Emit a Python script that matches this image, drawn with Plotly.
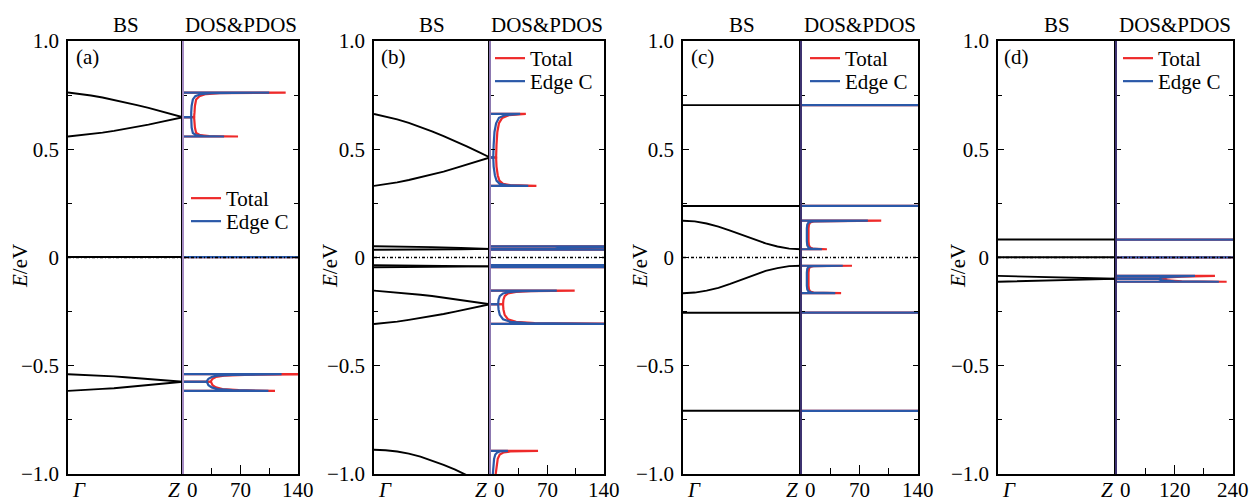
import plotly.graph_objects as go

W, H = 1249, 501
FONT = "Liberation Serif"
FS = 21
RED = "#ee2a2a"
BLUE = "#2a58a8"

# ---------------- data ----------------
K = [0.0, 0.1, 0.2, 0.3, 0.4, 0.5, 0.6, 0.7, 0.8, 0.9, 1.0]
K5 = [0.0, 0.25, 0.5, 0.75, 1.0]
K_FLAT = [0.0, 1.0]

# band structure (energy in eV along Gamma -> Z)
BANDS_A = [
    [0.762, 0.756, 0.748, 0.739, 0.728, 0.717, 0.704, 0.691, 0.677, 0.663, 0.648],
    [0.559, 0.564, 0.570, 0.577, 0.585, 0.594, 0.604, 0.614, 0.625, 0.637, 0.648],
    [0.002, 0.002],
    [-0.539, -0.541, -0.543, -0.546, -0.549, -0.553, -0.557, -0.561, -0.565, -0.570, -0.574],
    [-0.616, -0.614, -0.611, -0.607, -0.604, -0.599, -0.595, -0.590, -0.585, -0.579, -0.574],
]
BANDS_B = [
    [0.663, 0.652, 0.638, 0.622, 0.604, 0.583, 0.561, 0.538, 0.513, 0.488, 0.462],
    [0.331, 0.338, 0.347, 0.358, 0.370, 0.383, 0.397, 0.413, 0.429, 0.445, 0.462],
    [0.052, 0.051, 0.048, 0.044, 0.040],
    [0.036, 0.036, 0.037, 0.038, 0.040],
    [-0.035, -0.036, -0.038, -0.040, -0.041],
    [-0.045, -0.045, -0.044, -0.042, -0.041],
    [-0.153, -0.157, -0.161, -0.166, -0.172, -0.178, -0.185, -0.192, -0.200, -0.208, -0.216],
    [-0.307, -0.302, -0.296, -0.288, -0.280, -0.271, -0.261, -0.250, -0.239, -0.228, -0.216],
    [-0.888, -0.890, -0.896, -0.906, -0.920, -0.938, -0.958, -0.980, -1.005, -1.031, -1.057],
]
BANDS_C = [
    [0.704, 0.704],
    [0.238, 0.238],
    [0.170, 0.167, 0.157, 0.143, 0.124, 0.104, 0.084, 0.065, 0.051, 0.041, 0.038],
    [-0.165, -0.162, -0.153, -0.140, -0.122, -0.101, -0.081, -0.062, -0.049, -0.040, -0.038],
    [-0.255, -0.255],
    [-0.708, -0.708],
]
BANDS_D = [
    [0.083, 0.083],
    [0.001, 0.001],
    [-0.085, -0.086, -0.087, -0.088, -0.089, -0.090, -0.092, -0.093, -0.095, -0.096, -0.098],
    [-0.112, -0.111, -0.110, -0.109, -0.108, -0.106, -0.105, -0.103, -0.102, -0.100, -0.098],
]

# DOS / PDOS: lobes separated by None (energy, total DOS, edge-C PDOS)
DOS_A_E = [-0.616, -0.613, -0.608, -0.600, -0.590, -0.580, -0.574, None,
           -0.574, -0.568, -0.560, -0.552, -0.546, -0.542, -0.539, None,
           0.002, 0.002, None,
           0.559, 0.561, 0.565, 0.575, 0.600, 0.630, 0.648, None,
           0.648, 0.670, 0.700, 0.730, 0.745, 0.755, 0.759, 0.762]
DOS_A_TOTAL = [112, 68, 48, 40, 36, 34.5, 34, None,
               34, 34.5, 36, 40, 50, 75, 150, None,
               400, 400, None,
               67, 32, 21, 16, 14.5, 14, 13.5, None,
               13.5, 14, 14.5, 16, 20, 28, 45, 125]
DOS_A_EDGE = [104, 60, 42, 35, 31, 29.5, 29, None,
              29, 29.5, 31, 35, 42, 60, 120, None,
              400, 400, None,
              50, 25, 16, 12, 10.5, 10, 10, None,
              10, 10, 10.5, 12, 15, 22, 35, 105]

DOS_B_E = [-1.06, -1.0, -0.96, -0.93, -0.91, -0.90, -0.896, -0.893, None,
           -0.307, -0.303, -0.297, -0.285, -0.265, -0.240, -0.216, None,
           -0.216, -0.195, -0.178, -0.166, -0.159, -0.155, -0.153, None,
           -0.045, -0.043, -0.041, None,
           -0.041, -0.038, -0.035, None,
           0.036, 0.038, 0.040, None,
           0.040, 0.044, 0.048, 0.052, None,
           0.331, 0.334, 0.340, 0.355, 0.380, 0.420, 0.462, None,
           0.462, 0.520, 0.580, 0.620, 0.645, 0.657, 0.663]
DOS_B_TOTAL = [6.5, 7, 8, 9.5, 12, 17, 25, 59, None,
               180, 55, 32, 22, 18, 16.5, 16, None,
               16, 16.5, 18, 22, 32, 50, 104, None,
               400, 180, 160, None,
               160, 180, 400, None,
               400, 130, 107, None,
               107, 112, 140, 400, None,
               57, 25, 16, 11.5, 9.5, 8, 7.5, None,
               7.5, 8, 9, 11, 15, 23, 44]
DOS_B_EDGE = [3, 3.5, 4, 5, 6.5, 9, 12, 22, None,
              160, 45, 25, 16, 12, 10.5, 10, None,
              10, 10.5, 12, 16, 25, 40, 82, None,
              400, 150, 130, None,
              130, 150, 400, None,
              400, 100, 80, None,
              80, 85, 110, 400, None,
              47, 20, 12, 8, 6, 4.5, 4, None,
              4, 4.5, 5.5, 7.5, 11, 18, 37]

DOS_C_E = [-0.708, -0.708, None,
           -0.255, -0.255, None,
           -0.165, -0.162, -0.157, -0.147, -0.130, -0.100, -0.070, -0.052, -0.043, -0.040, -0.038, None,
           0.038, 0.041, 0.046, 0.056, 0.075, 0.104, 0.135, 0.152, 0.162, 0.167, 0.170, None,
           0.238, 0.238, None,
           0.704, 0.704]
DOS_C_TOTAL = [400, 400, None,
               400, 400, None,
               48, 15, 11, 9.5, 9, 8.8, 9, 9.5, 11, 15, 61, None,
               31, 14, 11, 9.5, 9, 8.8, 9, 9.5, 11, 15, 96, None,
               400, 400, None,
               400, 400]
DOS_C_EDGE = [400, 400, None,
              400, 400, None,
              41, 13, 9, 7.5, 7, 6.8, 7, 7.5, 9, 13, 50, None,
              25, 12, 9, 7.5, 7, 6.8, 7, 7.5, 9, 13, 80, None,
              400, 400, None,
              400, 400]

DOS_D_E = [-0.112, -0.110, -0.106, -0.098, None,
           -0.098, -0.092, -0.088, -0.085, None,
           0.001, 0.001, None,
           0.083, 0.083]
DOS_D_TOTAL = [227, 135, 106, 96, None,
               96, 106, 135, 203, None,
               700, 700, None,
               700, 700]
DOS_D_EDGE = [211, 120, 95, 86, None,
              86, 95, 120, 162, None,
              700, 700, None,
              700, 700]

E_FERMI = 0.0
E_RANGE = [-1.0, 1.0]
E_TICKS = [-1.0, -0.5, 0.0, 0.5, 1.0]
E_TICKTEXT = ["\u22121.0", "\u22120.5", "0", "0.5", "1.0"]

PANEL_LABELS = ["(a)", "(b)", "(c)", "(d)"]
DOS_MAX = [140, 140, 140, 240]
DOS_TICKS = [[0, 70, 140], [0, 70, 140], [0, 70, 140], [0, 120, 240]]
DOS_MINOR = [35, 35, 35, 60]

# ---------------- layout geometry (pixels) ----------------
BS_PX = [(68, 183), (374, 490), (683, 801), (998, 1116)]
DOS_PX = [(183, 298), (490, 604), (801, 918), (1116, 1233)]
TOP_PX, BOT_PX = 41, 474
YLABEL_X = [20, 330, 640, 958]
LEGEND_X = [186, 490, 805, 1118]
LEGEND_Y = [(178, 201), (38, 61), (38, 61), (38, 61)]
ZLINE_COLOR = ["#a58cc4", "#8c78b0", "#3d3270", "#3d3270"]
XLABEL_Y = 489.5

BANDS = [BANDS_A, BANDS_B, BANDS_C, BANDS_D]
DOS_E = [DOS_A_E, DOS_B_E, DOS_C_E, DOS_D_E]
DOS_T = [DOS_A_TOTAL, DOS_B_TOTAL, DOS_C_TOTAL, DOS_D_TOTAL]
DOS_P = [DOS_A_EDGE, DOS_B_EDGE, DOS_C_EDGE, DOS_D_EDGE]


def kgrid(n):
    return {11: K, 5: K5, 2: K_FLAT}[n]


def dos_path(energies, values):
    xs, ys = [], []
    lobe_e, lobe_v = [], []
    for e, v in list(zip(energies, values)) + [(None, None)]:
        if e is None:
            if lobe_e:
                xs += [0] + lobe_v + [0, None]
                ys += [lobe_e[0]] + lobe_e + [lobe_e[-1], None]
            lobe_e, lobe_v = [], []
        else:
            lobe_e.append(e)
            lobe_v.append(v)
    return xs, ys


fig = go.Figure()
layout = {}
annotations = []
shapes = []
ydom = [1 - BOT_PX / H, 1 - TOP_PX / H]
txtfont = dict(family=FONT, size=FS, color="black")

for i in range(4):
    bx, dx = 2 * i + 1, 2 * i + 2
    bxn = "x" if bx == 1 else f"x{bx}"
    byn = "y" if bx == 1 else f"y{bx}"
    dxn, dyn = f"x{dx}", f"y{dx}"
    leg_t = f"legend{2 * i + 1}" if i > 0 else "legend"
    leg_p = f"legend{2 * i + 2}"

    # band structure
    for band in BANDS[i]:
        fig.add_trace(go.Scatter(x=kgrid(len(band)), y=band, mode="lines",
                                 line=dict(color="black", width=1.9),
                                 xaxis=bxn, yaxis=byn, showlegend=False,
                                 hoverinfo="skip"))
    fig.add_trace(go.Scatter(x=K_FLAT, y=[E_FERMI, E_FERMI], mode="lines",
                             line=dict(color="black", width=1.3, dash="3px,2px,1px,2px"),
                             xaxis=bxn, yaxis=byn, showlegend=False, hoverinfo="skip"))

    # DOS and PDOS
    tx, ty = dos_path(DOS_E[i], DOS_T[i])
    px_, py_ = dos_path(DOS_E[i], DOS_P[i])
    fig.add_trace(go.Scatter(x=tx, y=ty, mode="lines", name="Total",
                             line=dict(color=RED, width=2.2), xaxis=dxn, yaxis=dyn,
                             legend=leg_t, showlegend=True, hoverinfo="skip"))
    fig.add_trace(go.Scatter(x=px_, y=py_, mode="lines", name="Edge C",
                             line=dict(color=BLUE, width=2.2), xaxis=dxn, yaxis=dyn,
                             legend=leg_p, showlegend=True, hoverinfo="skip"))
    fig.add_trace(go.Scatter(x=[0, DOS_MAX[i]], y=[E_FERMI, E_FERMI], mode="lines",
                             line=dict(color="black", width=1.3, dash="3px,2px,1px,2px"),
                             xaxis=dxn, yaxis=dyn, showlegend=False, hoverinfo="skip"))

    axline = dict(showline=True, linecolor="black", linewidth=1.5,
                  showgrid=False, zeroline=False)
    layout["xaxis" if bx == 1 else f"xaxis{bx}"] = dict(
        domain=[BS_PX[i][0] / W, BS_PX[i][1] / W], range=[0, 1], anchor=byn,
        tickvals=[0, 1], showticklabels=False, ticks="", mirror=True, **axline)
    layout["yaxis" if bx == 1 else f"yaxis{bx}"] = dict(
        domain=ydom, range=E_RANGE, anchor=bxn, tickvals=E_TICKS, ticktext=E_TICKTEXT,
        ticks="inside", ticklen=6, tickwidth=1.2, tickcolor="black",
        minor=dict(dtick=0.25, ticks="inside", ticklen=4, tickwidth=1.2, tickcolor="black"),
        mirror=False, tickfont=txtfont, ticklabelstandoff=3, **axline)
    dt = DOS_TICKS[i]
    layout[f"xaxis{dx}"] = dict(
        domain=[DOS_PX[i][0] / W, DOS_PX[i][1] / W], range=[0, DOS_MAX[i]], anchor=dyn,
        tickvals=dt, showticklabels=False,
        ticks="inside", ticklen=9, tickwidth=1.2, tickcolor="black",
        minor=dict(dtick=DOS_MINOR[i], ticks="inside", ticklen=6, tickwidth=1.2,
                   tickcolor="black"),
        mirror=True, **axline)
    layout[f"yaxis{dx}"] = dict(
        domain=ydom, range=E_RANGE, anchor=dxn, tickvals=E_TICKS, showticklabels=False,
        ticks="inside", ticklen=5, tickwidth=1.2, tickcolor="black",
        minor=dict(dtick=0.25, ticks="inside", ticklen=4, tickwidth=1.2, tickcolor="black"),
        mirror="ticks", **axline)

    # legends (one entry each, placed like the reference)
    for leg, ly in ((leg_t, LEGEND_Y[i][0]), (leg_p, LEGEND_Y[i][1])):
        layout[leg] = dict(x=LEGEND_X[i] / W, y=1 - ly / H, xanchor="left", yanchor="top",
                           bgcolor="rgba(0,0,0,0)", borderwidth=0, itemwidth=30,
                           font=txtfont)

    # purple zero-DOS line at Z
    shapes.append(dict(type="line", xref="paper", yref="paper",
                       x0=DOS_PX[i][0] / W, x1=DOS_PX[i][0] / W, y0=ydom[0], y1=ydom[1],
                       line=dict(color=ZLINE_COLOR[i], width=2), layer="above"))

    # k-point labels and DOS axis labels (at the axis tick values)
    yl = 1 - XLABEL_Y / H
    annotations += [
        dict(text="<i>\u0393</i>", x=0, xref=bxn, y=yl, yref="paper", xshift=2,
             showarrow=False, xanchor="left", yanchor="middle", font=txtfont),
        dict(text="<i>Z</i>", x=1, xref=bxn, y=yl, yref="paper", xshift=-1,
             showarrow=False, xanchor="right", yanchor="middle", font=txtfont),
        dict(text=str(dt[0]), x=dt[0], xref=dxn, y=yl, yref="paper", xshift=2,
             showarrow=False, xanchor="left", yanchor="middle", font=txtfont),
        dict(text=str(dt[1]), x=dt[1], xref=dxn, y=yl, yref="paper",
             showarrow=False, xanchor="center", yanchor="middle", font=txtfont),
        dict(text=str(dt[2]), x=dt[2], xref=dxn, y=yl, yref="paper",
             showarrow=False, xanchor="center", yanchor="middle", font=txtfont),
    ]

    # headings, panel label, energy axis label
    annotations += [
        dict(text="BS", x=(BS_PX[i][0] + BS_PX[i][1]) / 2 / W, y=1 - 25 / H,
             xref="paper", yref="paper", showarrow=False, xanchor="center", yanchor="middle",
             font=txtfont),
        dict(text="DOS&amp;PDOS", x=(DOS_PX[i][0] + DOS_PX[i][1]) / 2 / W, y=1 - 25 / H,
             xref="paper", yref="paper", showarrow=False, xanchor="center", yanchor="middle",
             font=txtfont),
        dict(text=PANEL_LABELS[i], x=(BS_PX[i][0] + 19) / W, y=1 - 57 / H,
             xref="paper", yref="paper", showarrow=False, xanchor="center", yanchor="middle",
             font=txtfont),
        dict(text="<i>E</i>/eV", x=YLABEL_X[i] / W, y=1 - 266 / H, textangle=-90,
             xref="paper", yref="paper", showarrow=False, xanchor="center", yanchor="middle",
             font=txtfont),
    ]

fig.update_layout(width=W, height=H,
                  margin=dict(l=0, r=0, t=0, b=0, pad=0, autoexpand=False),
                  paper_bgcolor="white", plot_bgcolor="white",
                  annotations=annotations, shapes=shapes,
                  font=txtfont, **layout)

fig.write_html("out.html")
